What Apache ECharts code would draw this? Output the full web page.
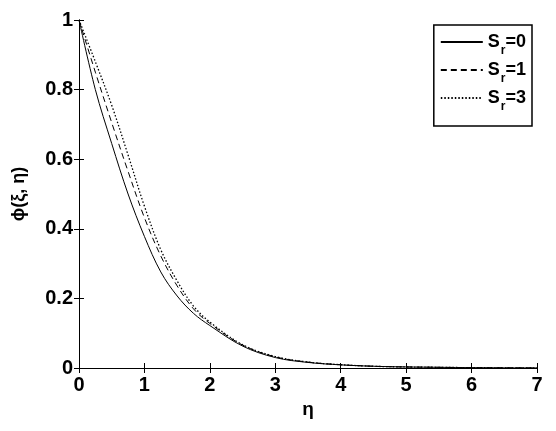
<!DOCTYPE html>
<html>
<head>
<meta charset="utf-8">
<script src="https://cdn.jsdelivr.net/npm/echarts@6/dist/echarts.min.js"></script>
<style>html,body{margin:0;padding:0;background:#fff;}#c{width:556px;height:431px;}</style>
</head>
<body>
<div id="c"></div>
<script>
var eta = [0, 0.25, 0.5, 0.75, 1, 1.25, 1.5, 1.75, 2, 2.5, 3, 3.5, 4, 4.5, 5, 5.5, 6, 6.5, 7];
var sr0 = [1, 0.80, 0.645, 0.50, 0.378, 0.276, 0.207, 0.157, 0.122, 0.063, 0.030, 0.016, 0.009, 0.005, 0.003, 0.002, 0.001, 0.0005, 0.0002];
var sr1 = [1, 0.85, 0.705, 0.565, 0.432, 0.322, 0.236, 0.170, 0.128, 0.066, 0.032, 0.017, 0.0095, 0.005, 0.003, 0.002, 0.001, 0.0005, 0.0002];
var sr3 = [1, 0.88, 0.755, 0.612, 0.465, 0.340, 0.250, 0.178, 0.132, 0.067, 0.033, 0.017, 0.0095, 0.005, 0.003, 0.002, 0.001, 0.0005, 0.0002];
var xTicks = [0, 1, 2, 3, 4, 5, 6, 7];
var yTicks = [0, 0.2, 0.4, 0.6, 0.8, 1];
var seriesNames = ['Sr=0', 'Sr=1', 'Sr=3'];
var legendLabels = ['0', '1', '3'];

function pairs(ys) { return eta.map(function (x, i) { return [x, ys[i]]; }); }

var FONT = 'Liberation Sans';
var chart = echarts.init(document.getElementById('c'), null, {renderer: 'canvas'});
var axisLine = {show: true, lineStyle: {color: '#000', width: 1}};
var tick = {show: true, inside: true, length: 5, lineStyle: {color: '#000', width: 1}};
var lbl = {color: '#000', fontFamily: FONT, fontWeight: 'bold', fontSize: 20};

function line(name, ys, dash, w) {
  return {
    name: name, type: 'line', data: pairs(ys), symbol: 'none', showSymbol: false,
    smooth: 0.35, animation: false,
    itemStyle: {color: '#000'},
    lineStyle: {color: '#000', width: w, type: dash}
  };
}

chart.setOption({
  backgroundColor: '#fff',
  animation: false,
  grid: {left: 79, right: 19, top: 20, bottom: 63, containLabel: false},
  xAxis: [
    {type: 'value', min: 0, max: 7, interval: 1, position: 'bottom',
     name: 'η', nameLocation: 'middle', nameGap: 27,
     nameTextStyle: {color: '#000', fontFamily: FONT, fontSize: 19, fontWeight: 'bold'},
     axisLine: axisLine, axisTick: tick, splitLine: {show: false},
     axisLabel: Object.assign({margin: 7}, lbl)},
    {type: 'value', min: 0, max: 7, interval: 1, position: 'top',
     axisLine: axisLine, axisTick: tick, splitLine: {show: false}, axisLabel: {show: false}}
  ],
  yAxis: [
    {type: 'value', min: 0, max: 1, interval: 0.2, position: 'left',
     name: 'ϕ(ξ, η)', nameLocation: 'middle', nameGap: 51, nameRotate: 90,
     nameTextStyle: {color: '#000', fontFamily: FONT, fontSize: 18, fontWeight: 'bold'},
     axisLine: axisLine, axisTick: tick, splitLine: {show: false},
     axisLabel: Object.assign({margin: 6}, lbl)},
    {type: 'value', min: 0, max: 1, interval: 0.2, position: 'right',
     axisLine: axisLine, axisTick: tick, splitLine: {show: false}, axisLabel: {show: false}}
  ],
  legend: {
    orient: 'vertical', right: 24, top: 25,
    data: seriesNames,
    itemWidth: 42, itemHeight: 14, itemGap: 4,
    padding: [8, 6, 13, 6],
    borderColor: '#000', borderWidth: 1.5, backgroundColor: '#fff',
    itemStyle: {opacity: 0},
    formatter: function (n) {
      var k = seriesNames.indexOf(n);
      return '{s|S}{sub|r}{s|=' + legendLabels[k] + '}';
    },
    textStyle: {
      color: '#000', fontFamily: FONT, fontWeight: 'bold', fontSize: 18,
      rich: {
        s: {color: '#000', fontFamily: FONT, fontWeight: 'bold', fontSize: 18},
        sub: {color: '#000', fontFamily: FONT, fontWeight: 'bold', fontSize: 12, padding: [18, 0, 0, 1]}
      }
    }
  },
  series: [
    line('Sr=0', sr0, 'solid', 1),
    line('Sr=1', sr1, [6, 4], 1),
    line('Sr=3', sr3, [1.5, 2], 1.3)
  ]
});
</script>
</body>
</html>
